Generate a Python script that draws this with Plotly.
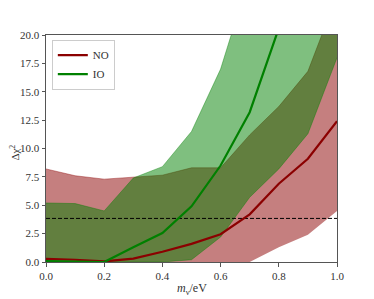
import plotly.graph_objects as go

m_nu = [0.0, 0.1, 0.2, 0.3, 0.4, 0.5, 0.6, 0.7, 0.8, 0.9, 1.0]

no_line = [0.28, 0.2, 0.05, 0.3, 0.9, 1.6, 2.45, 4.2, 6.9, 9.1, 12.4]
no_lower = [0.0, 0.0, 0.0, 0.0, 0.0, 0.0, 0.0, 0.0, 1.3, 2.4, 4.5]
no_upper = [8.2, 7.6, 7.3, 7.45, 7.65, 8.3, 8.3, 11.2, 13.7, 16.8, 23.5]

io_line = [0.08, 0.05, 0.0, 1.3, 2.55, 4.9, 8.5, 13.2, 20.2, 28.0, 36.0]
io_lower = [0.0, 0.0, 0.0, 0.0, 0.0, 0.2, 2.2, 5.7, 8.2, 11.3, 18.0]
io_upper = [5.2, 5.15, 4.5, 7.4, 8.4, 11.5, 17.0, 26.0, 34.0, 42.0, 50.0]

threshold = 3.84

FAM = "Liberation Serif, DejaVu Serif, serif"
font = dict(family=FAM, size=11, color="#333333")

fig = go.Figure()

# NO band
fig.add_trace(go.Scatter(x=m_nu, y=no_lower, mode="lines", line=dict(width=0),
                         showlegend=False, hoverinfo="skip"))
fig.add_trace(go.Scatter(x=m_nu, y=no_upper, mode="lines", fill="tonexty",
                         fillcolor="rgba(139,0,0,0.5)",
                         line=dict(width=0.8, color="rgba(139,0,0,0.5)"),
                         showlegend=False, hoverinfo="skip"))
# IO band
fig.add_trace(go.Scatter(x=m_nu, y=io_lower, mode="lines", line=dict(width=0.8, color="rgba(0,128,0,0.5)"),
                         showlegend=False, hoverinfo="skip"))
fig.add_trace(go.Scatter(x=m_nu, y=io_upper, mode="lines", fill="tonexty",
                         fillcolor="rgba(0,128,0,0.5)",
                         line=dict(width=0.8, color="rgba(0,128,0,0.5)"),
                         showlegend=False, hoverinfo="skip"))

# threshold
fig.add_trace(go.Scatter(x=[m_nu[0], m_nu[-1]], y=[threshold, threshold], mode="lines",
                         line=dict(color="black", width=1, dash="4px,2px"),
                         showlegend=False, hoverinfo="skip"))

fig.add_trace(go.Scatter(x=m_nu, y=no_line, mode="lines", name="NO",
                         line=dict(color="darkred", width=2.2)))
fig.add_trace(go.Scatter(x=m_nu, y=io_line, mode="lines", name="IO",
                         line=dict(color="green", width=2.2)))

axis_common = dict(showgrid=False, zeroline=False, showline=True, linecolor="#555555",
                   linewidth=1, mirror=True, ticks="outside", ticklen=3.5,
                   tickcolor="#555555", tickfont=font, automargin=False)

fig.update_xaxes(range=[0, 1], tickvals=[0, 0.2, 0.4, 0.6, 0.8, 1.0],
                 ticktext=["0.0", "0.2", "0.4", "0.6", "0.8", "1.0"],
                 **axis_common)
fig.update_yaxes(range=[0, 20], tickvals=[0, 2.5, 5, 7.5, 10, 12.5, 15, 17.5, 20],
                 ticktext=["0.0", "2.5", "5.0", "7.5", "10.0", "12.5", "15.0", "17.5", "20.0"],
                 **axis_common)

title_font = dict(family=FAM, size=12, color="#333333")
fig.add_annotation(text="<i>m</i><sub>ν</sub>/eV", xref="paper", yref="paper",
                   x=0.5, y=-0.075, xanchor="center", yanchor="top", showarrow=False,
                   font=title_font)
fig.add_annotation(text="Δχ<sup>2</sup>", xref="paper", yref="paper",
                   x=-0.108, y=0.48, xanchor="center", yanchor="middle", showarrow=False,
                   textangle=-90, font=dict(family=FAM, size=11, color="#333333"))

fig.update_layout(
    width=366, height=291,
    margin=dict(l=38, r=37, t=27, b=37),
    plot_bgcolor="white", paper_bgcolor="white",
    font=font,
    legend=dict(x=0.02, y=0.98, xanchor="left", yanchor="top", traceorder="normal",
                bgcolor="rgba(255,255,255,0.8)", bordercolor="#cccccc", borderwidth=1,
                font=dict(family=FAM, size=11, color="#333333"),
                itemwidth=30, tracegroupgap=0),
)

fig.write_html("out.html")
